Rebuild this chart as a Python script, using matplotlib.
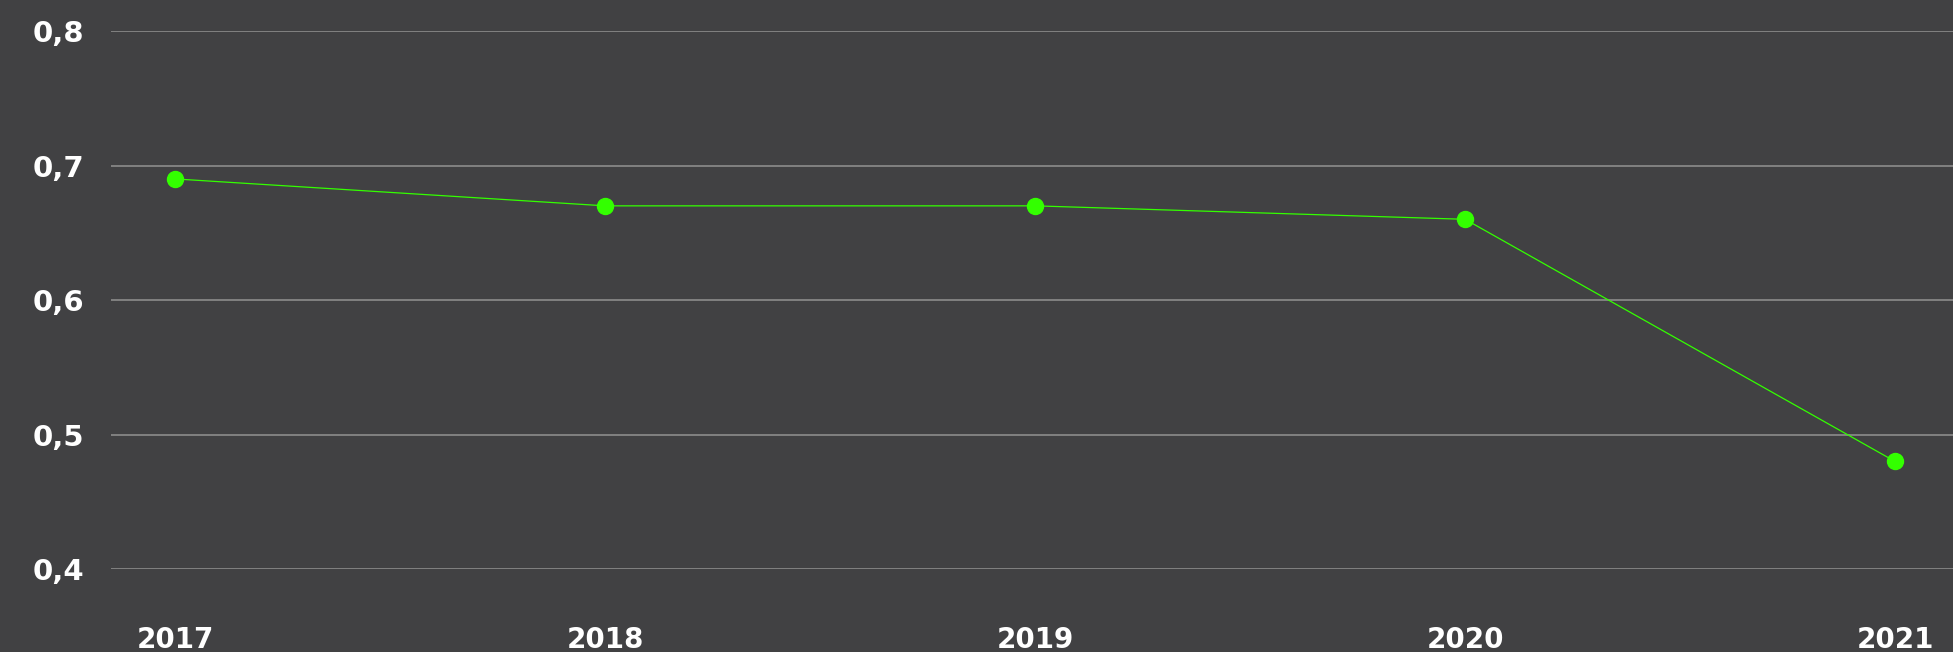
import matplotlib
matplotlib.use("Agg")
import matplotlib.pyplot as plt

years = ["2017", "2018", "2019", "2020", "2021"]
values = [0.69, 0.67, 0.67, 0.66, 0.48]
yticks = [0.4, 0.5, 0.6, 0.7, 0.8]
ytick_labels = ["0,4", "0,5", "0,6", "0,7", "0,8"]

BG = "#414143"
GREEN = "#33ff00"
GRID = "#8c8c8c"

W, H = 1953, 652
fig = plt.figure(figsize=(W / 100, H / 100), dpi=100)
fig.patch.set_facecolor(BG)
ax = fig.add_axes([111 / W, (H - 569) / H, (W - 111) / W, 538 / H])
ax.set_facecolor(BG)

x = list(range(len(years)))
ax.plot(x, values, color=GREEN, linewidth=0.9, marker="o", markersize=11.5,
        markerfacecolor=GREEN, markeredgecolor=GREEN, clip_on=False, zorder=3)

ax.set_ylim(0.4, 0.8)
ax.set_xlim(-0.150, 4.135)
ax.set_yticks(yticks)
ax.set_yticklabels(ytick_labels)
ax.set_xticks(x)
ax.set_xticklabels(years)

for s in ax.spines.values():
    s.set_visible(False)
ax.grid(axis="y", color=GRID, linewidth=1.2)
ax.grid(axis="x", visible=False)
ax.set_axisbelow(True)
ax.tick_params(axis="both", length=0, colors="white")
ax.tick_params(axis="y", pad=19)
ax.tick_params(axis="x", pad=41)
for lab in ax.get_yticklabels():
    lab.set_fontsize(21)
    lab.set_fontweight("bold")
    lab.set_family("DejaVu Sans")
for lab in ax.get_xticklabels():
    lab.set_fontsize(20)
    lab.set_fontweight("bold")
    lab.set_family("DejaVu Sans")

fig.savefig("out.png", dpi=100, facecolor=BG)
